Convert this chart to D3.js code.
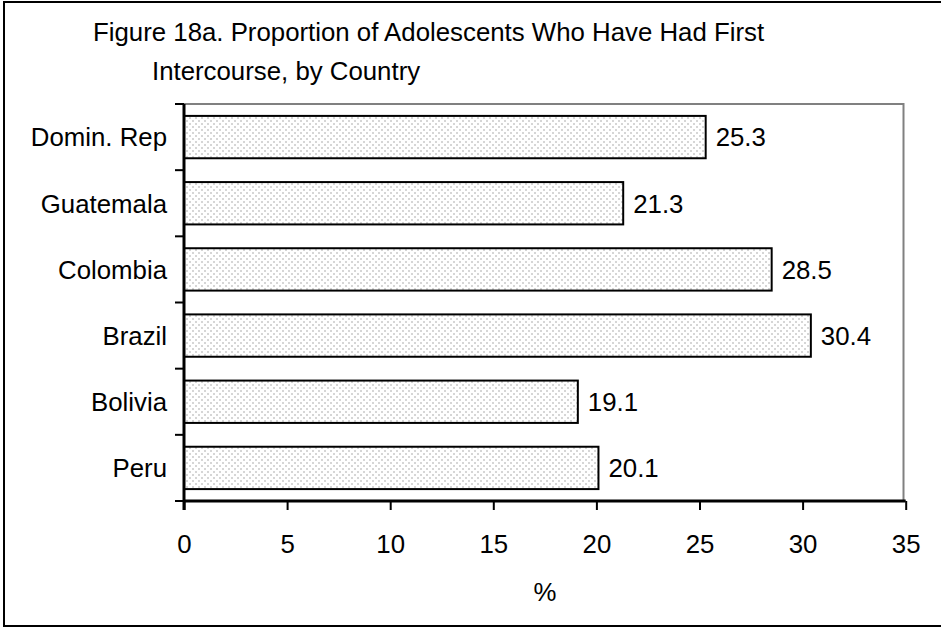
<!DOCTYPE html>
<html><head><meta charset="utf-8">
<script src="https://cdn.jsdelivr.net/npm/d3@7/dist/d3.min.js"></script>
<style>body{margin:0;background:#fff}svg{display:block}text{font-family:"Liberation Sans",Arial,sans-serif;fill:#000}</style>
</head><body>
<script>
const categories = ["Domin. Rep", "Guatemala", "Colombia", "Brazil", "Bolivia", "Peru"];
const values = [25.3, 21.3, 28.5, 30.4, 19.1, 20.1];
const xTicks = [0, 5, 10, 15, 20, 25, 30, 35];
const titleLines = ["Figure 18a. Proportion of Adolescents Who Have Had First", "Intercourse, by Country"];
const xLabel = "%";

const W = 941, H = 628;
const FS = 25.8;
const svg = d3.select("body").append("svg").attr("width", W).attr("height", H);

const defs = svg.append("defs");
const pat = defs.append("pattern").attr("id", "dots").attr("patternUnits", "userSpaceOnUse")
  .attr("width", 6).attr("height", 6);
pat.append("rect").attr("width", 6).attr("height", 6).attr("fill", "#fff");
pat.append("rect").attr("x", 0).attr("y", 0).attr("width", 2).attr("height", 2).attr("fill", "#d6d6d6");
pat.append("rect").attr("x", 3).attr("y", 3).attr("width", 2).attr("height", 2).attr("fill", "#d6d6d6");

// outer frame
svg.append("rect").attr("x", 4).attr("y", 2).attr("width", W + 10).attr("height", 624)
  .attr("fill", "none").attr("stroke", "#000").attr("stroke-width", 2);

const pLeft = 184, pRight = 905.7, pTop = 104, pBottom = 501;
const x = d3.scaleLinear().domain([0, 35]).range([pLeft, pRight]);
const y = d3.scaleBand().domain(categories).range([pTop, pBottom]).paddingInner(0.36).paddingOuter(0.18);

// plot area border (grey)
svg.append("rect").attr("x", pLeft).attr("y", pTop).attr("width", 903.5 - pLeft).attr("height", pBottom - pTop)
  .attr("fill", "none").attr("stroke", "#808080").attr("stroke-width", 2);

// bars
svg.append("g").selectAll("rect").data(categories).join("rect")
  .attr("x", x(0)).attr("y", d => y(d))
  .attr("width", (d, i) => x(values[i]) - x(0)).attr("height", y.bandwidth())
  .attr("fill", "url(#dots)").attr("stroke", "#000").attr("stroke-width", 2);

// value labels
svg.append("g").selectAll("text").data(categories).join("text")
  .attr("x", (d, i) => x(values[i]) + 10).attr("y", d => y(d) + y.bandwidth() / 2)
  .attr("dy", "0.36em").attr("font-size", FS).text((d, i) => values[i].toFixed(1));

// x axis
const xAxis = svg.append("g").attr("transform", `translate(0,${pBottom})`)
  .call(d3.axisBottom(x).tickValues(xTicks).tickSize(9).tickPadding(25).tickFormat(d3.format("d")));
xAxis.select(".domain").attr("stroke", "#000").attr("stroke-width", 3).attr("d", `M${pLeft},0H${pRight}`);
xAxis.selectAll(".tick line").attr("stroke", "#000").attr("stroke-width", 2);
xAxis.selectAll(".tick text").attr("font-size", FS).attr("font-family", '"Liberation Sans",Arial,sans-serif');

// y axis
const yBounds = d3.range(categories.length + 1).map(i => pTop + i * (pBottom - pTop) / categories.length);
const yAx = svg.append("g");
yAx.append("line").attr("x1", pLeft).attr("x2", pLeft).attr("y1", pTop).attr("y2", pBottom + 9)
  .attr("stroke", "#000").attr("stroke-width", 3);
yAx.selectAll("line.t").data(yBounds).join("line").attr("class", "t")
  .attr("x1", pLeft - 9).attr("x2", pLeft).attr("y1", d => d).attr("y2", d => d)
  .attr("stroke", "#000").attr("stroke-width", 2);
yAx.selectAll("text").data(categories).join("text")
  .attr("x", 167).attr("y", d => y(d) + y.bandwidth() / 2).attr("dy", "0.36em")
  .attr("text-anchor", "end").attr("font-size", FS).text(d => d);

// title
svg.append("text").attr("x", 93).attr("y", 41).attr("font-size", FS).text(titleLines[0]);
svg.append("text").attr("x", 152).attr("y", 80).attr("font-size", FS).text(titleLines[1]);

// x label
svg.append("text").attr("x", 545).attr("y", 601).attr("text-anchor", "middle").attr("font-size", FS).text(xLabel);
</script>
</body></html>
